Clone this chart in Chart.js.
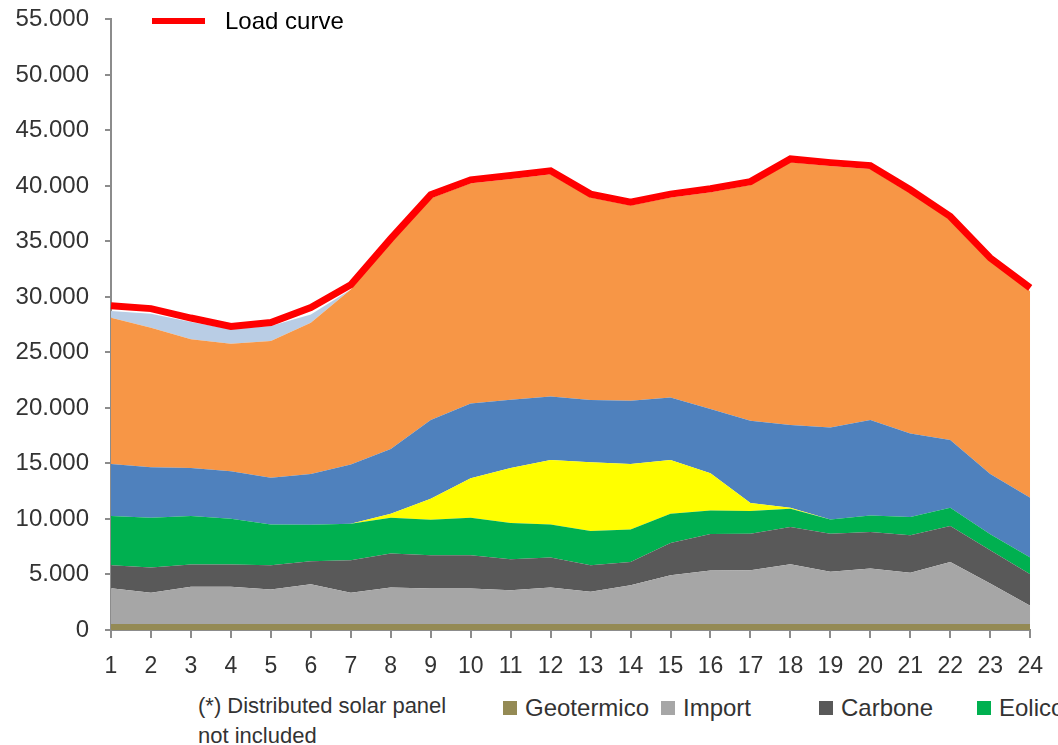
<!DOCTYPE html>
<html>
<head>
<meta charset="utf-8">
<script src="https://cdn.jsdelivr.net/npm/chart.js@4.4.1/dist/chart.umd.min.js"></script>
<style>
  html, body { margin: 0; padding: 0; background: #fff; overflow: hidden; }
  body { width: 1058px; height: 745px; position: relative; font-family: "Liberation Sans", Arial, sans-serif; }
  #wrap { position: absolute; left: 0; top: -11px; width: 1058px; height: 701px; }
  #loadLegend { position: absolute; left: 152px; top: 7px; font-size: 24px; color: #000; white-space: nowrap; }
  #loadLegend span.line { display: inline-block; width: 53px; height: 6px; background: #ff0000; vertical-align: middle; margin-right: 20px; position: relative; top: -2px; }
  #note { position: absolute; left: 198px; top: 691px; font-size: 22px; line-height: 30px; color: #333; }
  #legend { position: absolute; left: 503px; top: 694px; font-size: 24px; color: #333; white-space: nowrap; }
  #legend .item { display: inline-block; width: 158px; }
  #legend .box { display: inline-block; width: 14px; height: 14px; margin-right: 8px; vertical-align: middle; position: relative; top: -2px; }
</style>
</head>
<body>
<div id="wrap"><canvas id="chartCanvas" width="1058" height="701"></canvas></div>
<div id="loadLegend"><span class="line"></span>Load curve</div>
<div id="note">(*) Distributed solar panel<br>not included</div>
<div id="legend"></div>
<script>
// hours
const hours = ["1","2","3","4","5","6","7","8","9","10","11","12","13","14","15","16","17","18","19","20","21","22","23","24"];

// generation by source (MW), bottom to top
const geotermico = [550,550,550,550,550,550,550,550,550,550,550,550,550,550,550,550,550,550,550,550,550,550,550,550];
const importEl = [3220,2800,3340,3340,3100,3580,2800,3280,3190,3190,3040,3280,2890,3490,4390,4810,4840,5370,4690,4990,4600,5580,3640,1640];
const carbone = [2060,2270,2000,2000,2180,2060,2930,3050,2990,2990,2780,2690,2390,2090,2900,3290,3290,3360,3440,3290,3380,3240,2990,2840];
const eolico = [4430,4490,4370,4130,3680,3290,3290,3230,3200,3380,3260,2990,3080,2930,2630,2120,2030,1640,1280,1490,1640,1640,1440,1490];
const solare = [0,0,0,0,0,0,0,360,1890,3570,4970,5810,6200,5900,4850,3360,720,90,0,0,0,0,0,0];
const idro = [4700,4550,4340,4280,4200,4580,5330,5840,7090,6730,6140,5710,5600,5690,5630,5770,7420,7450,8290,8590,7540,6110,5440,5390];
const termico = [13160,12570,11580,11490,12320,13620,15770,18640,19990,19840,19890,20030,18250,17590,18010,19540,21240,23670,23550,22620,21640,19830,19150,18610];
const pompaggio = [610,1260,1560,1290,1350,750,0,0,0,0,0,0,0,0,0,0,0,0,0,0,0,0,0,0];

// load curve
const loadCurve = [29200,28950,28100,27350,27700,29050,31100,35250,39200,40550,40930,41360,39260,38540,39260,39740,40390,42430,42100,41830,39650,37250,33510,30820];

const yTicks = [0,5000,10000,15000,20000,25000,30000,35000,40000,45000,50000,55000];

const sources = [
  { label: "Geotermico", data: geotermico, color: "#948a54" },
  { label: "Import", data: importEl, color: "#a6a6a6" },
  { label: "Carbone", data: carbone, color: "#595959" },
  { label: "Eolico", data: eolico, color: "#00b050" },
  { label: "Solare", data: solare, color: "#ffff00" },
  { label: "Idro", data: idro, color: "#4f81bd" },
  { label: "Termico", data: termico, color: "#f79646" },
  { label: "Pompaggio", data: pompaggio, color: "#b9cde5" },
];

const fmt = (v) => String(v).replace(/\B(?=(\d{3})+(?!\d))/g, ".");

const datasets = sources.map((s, i) => ({
  label: s.label,
  data: s.data,
  backgroundColor: s.color,
  borderColor: s.color,
  borderWidth: 0,
  pointRadius: 0,
  fill: i === 0 ? "origin" : "-1",
  stack: "gen",
  tension: 0,
}));

datasets.push({
  label: "Load curve",
  data: loadCurve,
  borderColor: "#ff0000",
  backgroundColor: "#ff0000",
  borderWidth: 7,
  pointRadius: 0,
  fill: false,
  stack: "load",
  order: -1,
  tension: 0,
});

const axisColor = "#8c8c8c";

const ctx = document.getElementById("chartCanvas").getContext("2d");
new Chart(ctx, {
  type: "line",
  data: { labels: hours, datasets: datasets },
  options: {
    responsive: false,
    animation: false,
    layout: { padding: { top: 6, right: 22, left: 0, bottom: 0 } },
    plugins: { legend: { display: false }, tooltip: { enabled: false } },
    scales: {
      x: {
        offset: false,
        grid: { drawOnChartArea: false, drawTicks: true, tickLength: 8, color: axisColor, lineWidth: 2 },
        border: { display: true, color: axisColor, width: 2 },
        ticks: { color: "#333", font: { size: 23, family: "Liberation Sans" }, padding: 15, maxRotation: 0, autoSkip: false },
        afterFit: (s) => { s.height = 60; },
      },
      y: {
        stacked: true,
        min: 0,
        max: 55000,
        afterBuildTicks: (s) => { s.ticks = yTicks.map((v) => ({ value: v })); },
        grid: { drawOnChartArea: false, drawTicks: true, tickLength: 6, color: axisColor, lineWidth: 2 },
        border: { display: true, color: axisColor, width: 2 },
        ticks: { color: "#333", font: { size: 24, family: "Liberation Sans" }, padding: 16, callback: (v) => fmt(v) },
        afterFit: (s) => { s.width = 111; },
      },
    },
  },
});

// bottom legend
const legend = document.getElementById("legend");
sources.forEach((s) => {
  const item = document.createElement("span");
  item.className = "item";
  item.innerHTML = '<span class="box" style="background:' + s.color + '"></span>' + s.label;
  legend.appendChild(item);
});
</script>
</body>
</html>
